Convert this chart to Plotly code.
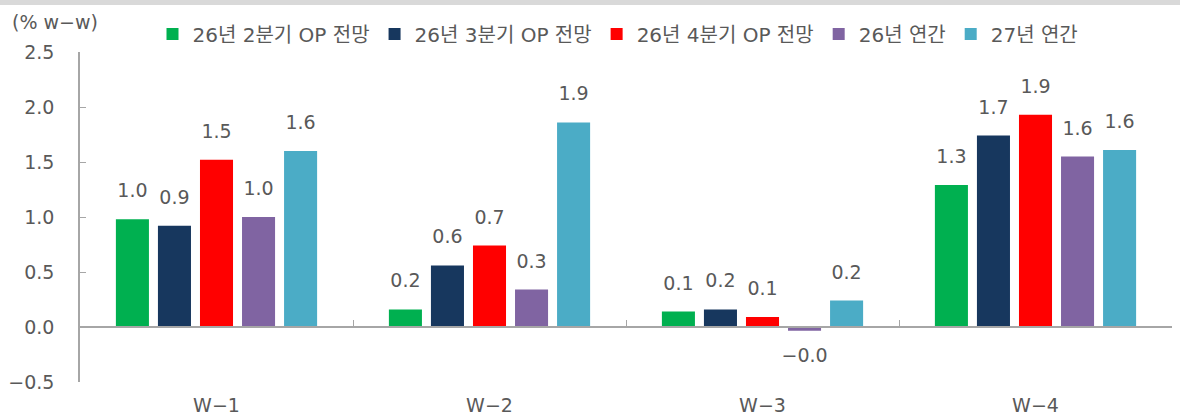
import plotly.graph_objects as go

categories = ["W\u22121", "W\u22122", "W\u22123", "W\u22124"]
series_names = ["26년 2분기 OP 전망", "26년 3분기 OP 전망", "26년 4분기 OP 전망", "26년 연간", "27년 연간"]
q2_op = [0.98, 0.16, 0.14, 1.29]
q3_op = [0.92, 0.56, 0.16, 1.74]
q4_op = [1.52, 0.74, 0.09, 1.93]
y26_annual = [1.00, 0.34, -0.035, 1.55]
y27_annual = [1.60, 1.86, 0.24, 1.61]
colors = ["#00b050", "#17375e", "#ff0000", "#8064a2", "#4bacc6"]
y_ticks = [-0.5, 0.0, 0.5, 1.0, 1.5, 2.0, 2.5]

FONT = "DejaVu Sans, Noto Sans CJK KR"
FS = 19
GRAY = "#595959"
AX = "#a6a6a6"


def fmt(v):
    return f"{v:.1f}".replace("-", "\u2212")


all_series = [q2_op, q3_op, q4_op, y26_annual, y27_annual]

fig = go.Figure()
for name, vals, col in zip(series_names, all_series, colors):
    fig.add_trace(go.Bar(
        x=categories, y=vals, name=name, marker=dict(color=col, line=dict(width=0)),
        hoverinfo="skip",
    ))

# value labels, grouped like the bars
for name, vals in zip(series_names, all_series):
    fig.add_trace(go.Scatter(
        x=categories, y=vals, mode="markers+text", orientation="v",
        marker=dict(size=26, color="rgba(0,0,0,0)"),
        text=[fmt(v) for v in vals],
        textposition=["top center" if v >= 0 else "bottom center" for v in vals],
        textfont=dict(family=FONT, size=FS, color=GRAY),
        cliponaxis=False, showlegend=False, hoverinfo="skip",
    ))

# helper axis at zero for category-boundary ticks
fig.add_trace(go.Scatter(x=categories, y=[None] * len(categories), xaxis="x2",
                         showlegend=False, hoverinfo="skip", mode="markers"))

plot_h = 418 - 52 - 36
fig.update_layout(
    width=1180, height=418,
    margin=dict(l=80, r=8, t=52, b=36, autoexpand=False),
    paper_bgcolor="white", plot_bgcolor="white",
    barmode="group", bargap=0.23, bargroupgap=0.214,
    scattermode="group", scattergap=0.23,
    font=dict(family=FONT, size=FS, color=GRAY),
    showlegend=True,
    legend=dict(orientation="h", x=(618 - 80) / 1092, xanchor="center", y=1 + 18 / plot_h,
                yanchor="middle", font=dict(family=FONT, size=20, color=GRAY),
                bgcolor="rgba(0,0,0,0)", itemwidth=30, traceorder="normal"),
    xaxis=dict(type="category", categoryarray=categories, range=[-0.5, 3.5],
               showline=False, ticks="", showgrid=False, zeroline=False,
               ticklabelstandoff=10, automargin=False,
               tickfont=dict(family=FONT, size=FS, color=GRAY)),
    xaxis2=dict(type="category", categoryarray=categories, range=[-0.5, 3.5], overlaying="x",
                anchor="free", position=0.5 / 3.0, showticklabels=False, showline=True,
                linecolor=AX, linewidth=1.5, ticks="inside", tickson="boundaries",
                ticklen=6, tickcolor=AX, showgrid=False, zeroline=False, automargin=False),
    yaxis=dict(range=[-0.5, 2.5], tickvals=y_ticks, tickformat=".1f", showgrid=False,
               zeroline=False, showline=True, linecolor=AX, linewidth=1.5,
               ticks="inside", ticklen=6, tickcolor=AX, ticklabelstandoff=20,
               automargin=False,
               tickfont=dict(family=FONT, size=FS, color=GRAY)),
    annotations=[dict(text="(% w\u2212w)", xref="paper", yref="paper",
                      x=-70 / 1092, y=1 + 30 / plot_h, xanchor="left", yanchor="middle",
                      showarrow=False, font=dict(family=FONT, size=FS, color=GRAY))],
    shapes=[dict(type="rect", xref="paper", yref="paper", x0=-80 / 1092, x1=1 + 8 / 1092,
                 y0=1 + 47 / plot_h, y1=1 + 52 / plot_h, fillcolor="#d9d9d9", line=dict(width=0),
                 layer="below")],
)

fig.write_html("out.html", config={"displayModeBar": False},
               post_script="document.body.style.margin='0px';")
